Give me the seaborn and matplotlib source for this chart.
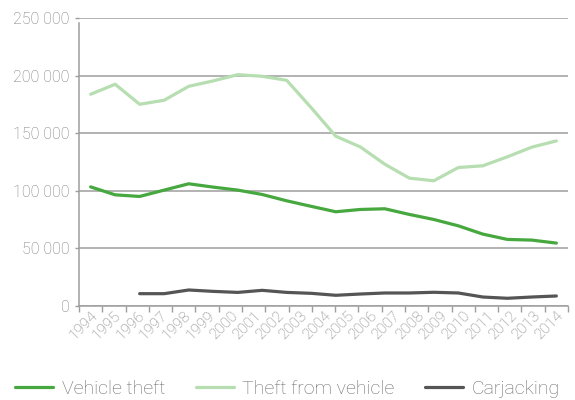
import numpy as np
import pandas as pd
import matplotlib
matplotlib.use("Agg")
import matplotlib.pyplot as plt
import seaborn as sns
from matplotlib.ticker import FuncFormatter, FixedLocator

years = [str(y) for y in range(1994, 2015)]

vehicle_theft = [103400, 96500, 95100, 100600, 106100, 103200, 100600, 96800, 91300, 86500,
                 81800, 83800, 84400, 79500, 75100, 69600, 62400, 57800, 57200, 54600]
theft_from_vehicle = [183800, 192500, 175100, 178600, 190700, 195400, 200800, 199400, 195900, 172100,
                      147400, 138100, 123100, 111000, 108700, 120200, 121700, 129500, 137900, 143300]
carjacking = [np.nan, np.nan, 10700, 10700, 13900, 12700, 11800, 13600, 11800, 11000,
              9300, 10400, 11300, 11300, 11900, 11300, 7800, 6700, 7800, 8700]

series_names = ["Vehicle theft", "Theft from vehicle", "Carjacking"]
colors = {"Vehicle theft": "#46a83f", "Theft from vehicle": "#b6deb1", "Carjacking": "#555555"}

# points are spread evenly from the first to the last category centre
n = len(vehicle_theft)
pos = np.linspace(0.5, len(years) - 0.5, n)

df = pd.concat([
    pd.DataFrame({"pos": pos, "value": vals, "series": name})
    for name, vals in zip(series_names, [vehicle_theft, theft_from_vehicle, carjacking])
]).dropna()

sns.set_theme(style="white")
plt.rcParams['font.family'] = ['Roboto', 'DejaVu Sans']

fig = plt.figure(figsize=(5.75, 4.0), dpi=100)
ax = fig.add_axes([79/575, 1 - 306/400, (568 - 79)/575, (306 - 18)/400])

sns.lineplot(data=df, x="pos", y="value", hue="series", hue_order=series_names,
             palette=colors, linewidth=2.3, ax=ax, legend=False, sort=True)

grid_c = "#9e9e9e"
ax.set_xlim(0, len(years))
ax.set_ylim(0, 250000)
ax.set_yticks(np.arange(0, 250001, 50000))
ax.yaxis.set_major_formatter(FuncFormatter(lambda v, p: f"{v:,.0f}".replace(",", " ")))
ax.grid(axis="y", color=grid_c, linewidth=1.1)
ax.set_axisbelow(True)

ax.xaxis.set_major_locator(FixedLocator(np.arange(0, len(years) + 1)))
ax.xaxis.set_major_formatter(FuncFormatter(lambda v, p: ""))
ax.xaxis.set_minor_locator(FixedLocator(np.arange(len(years)) + 0.5))
ax.set_xticklabels(years, minor=True)
ax.tick_params(axis="x", which="major", length=4.5, width=1.0, color=grid_c, direction="out", bottom=True)
ax.tick_params(axis="x", which="minor", length=0, pad=2, labelsize=11, labelcolor="#7d7d7d")
for lab in ax.get_xticklabels(minor=True):
    lab.set_rotation(45)
    lab.set_ha("right")
    lab.set_rotation_mode("anchor")
    lab.set_fontweight("light")

ax.tick_params(axis="y", length=3, width=1.0, color=grid_c, pad=4, labelsize=11.5, labelcolor="#777777", left=True)
for lab in ax.get_yticklabels():
    lab.set_fontweight("light")

ax.set_xlabel("")
ax.set_ylabel("")
for s in ["top", "right"]:
    ax.spines[s].set_visible(False)
ax.spines["left"].set_color(grid_c)
ax.spines["left"].set_linewidth(1.1)
ax.spines["left"].set_bounds(0, 245500)
ax.spines["bottom"].set_color(grid_c)
ax.spines["bottom"].set_linewidth(1.1)

handles = [plt.Line2D([], [], color=colors[nm], linewidth=2.3) for nm in series_names]
leg = fig.legend(handles, series_names, loc="center", bbox_to_anchor=(0.5, 1 - 389/400),
                 ncol=3, frameon=False, handlelength=1.95, handletextpad=0.45, columnspacing=1.55,
                 prop={"size": 14, "weight": "light"})
for t in leg.get_texts():
    t.set_color("#6a6a6a")

fig.savefig("out.png", dpi=100)
